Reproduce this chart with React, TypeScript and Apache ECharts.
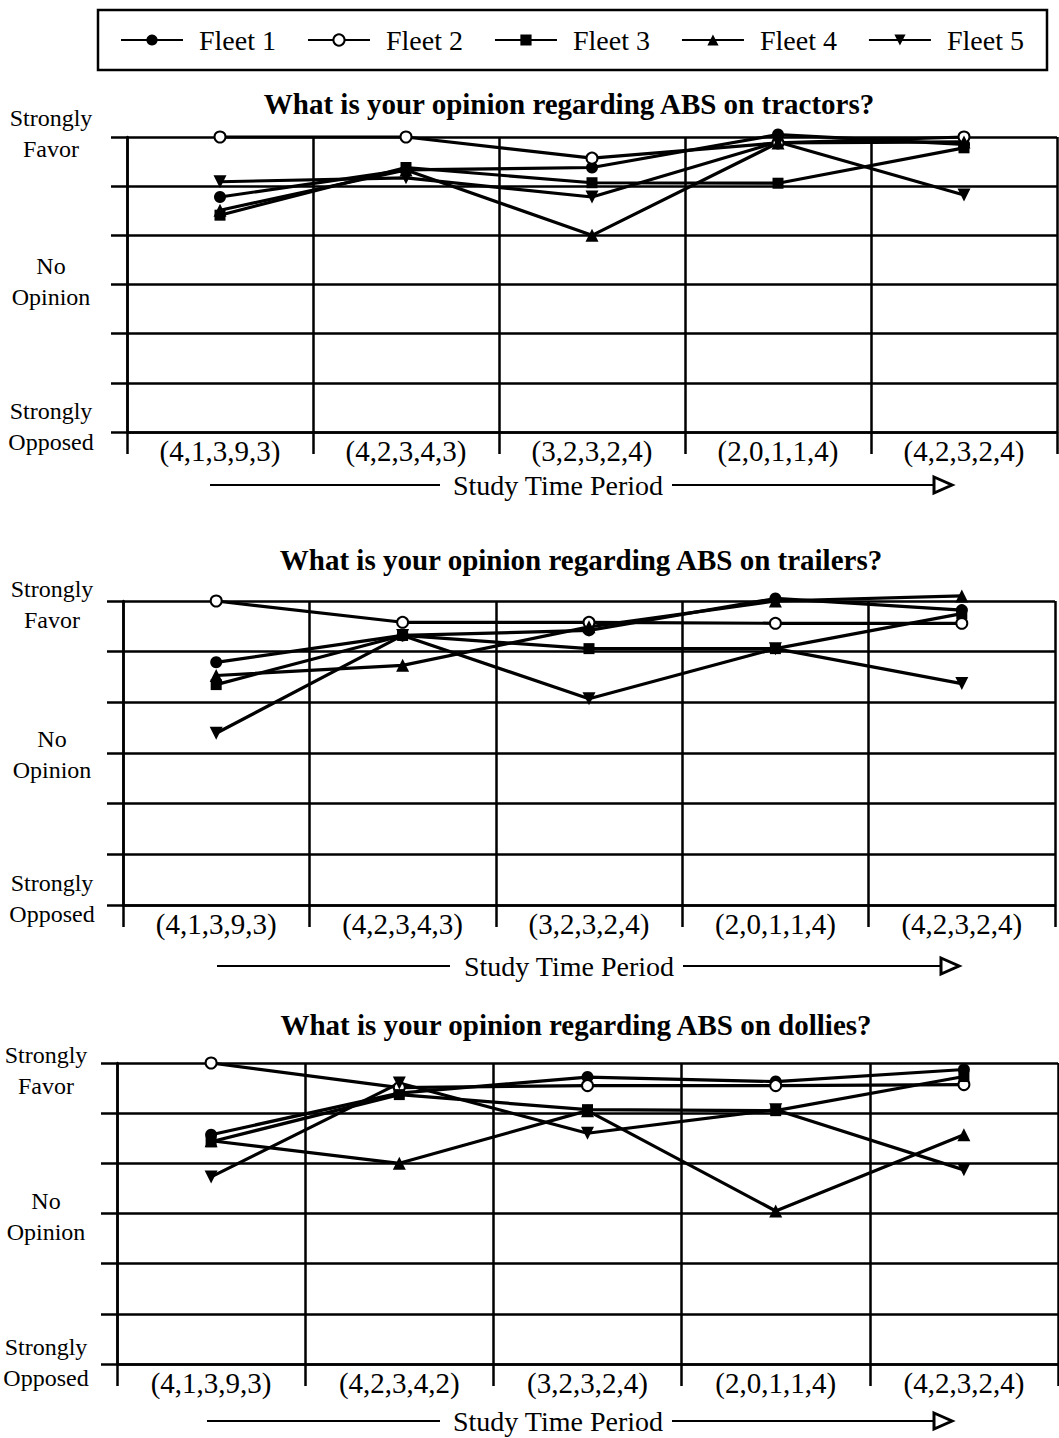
import React, { useEffect, useRef } from "react";
import * as echarts from "echarts";

const categoriesTractors = ["(4,1,3,9,3)", "(4,2,3,4,3)", "(3,2,3,2,4)", "(2,0,1,1,4)", "(4,2,3,2,4)"];
const categoriesTrailers = ["(4,1,3,9,3)", "(4,2,3,4,3)", "(3,2,3,2,4)", "(2,0,1,1,4)", "(4,2,3,2,4)"];
const categoriesDollies = ["(4,1,3,9,3)", "(4,2,3,4,2)", "(3,2,3,2,4)", "(2,0,1,1,4)", "(4,2,3,2,4)"];

const fleetNames = ["Fleet 1", "Fleet 2", "Fleet 3", "Fleet 4", "Fleet 5"];

// Opinion scale: 1 = Strongly Opposed, 4 = No Opinion, 7 = Strongly Favor
const tractorsFleet1 = [5.78, 6.33, 6.38, 7.05, 6.85];
const tractorsFleet2 = [7.0, 7.0, 6.57, 6.88, 7.0];
const tractorsFleet3 = [5.41, 6.38, 6.07, 6.06, 6.78];
const tractorsFleet4 = [5.51, 6.33, 5.0, 6.88, 6.9];
const tractorsFleet5 = [6.09, 6.17, 5.78, 6.9, 5.82];

const trailersFleet1 = [5.79, 6.32, 6.42, 7.05, 6.82];
const trailersFleet2 = [7.0, 6.58, 6.58, 6.56, 6.56];
const trailersFleet3 = [5.35, 6.32, 6.06, 6.06, 6.75];
const trailersFleet4 = [5.53, 5.73, 6.49, 7.0, 7.1];
const trailersFleet5 = [4.39, 6.32, 5.07, 6.06, 5.37];

const dolliesFleet1 = [5.57, 6.4, 6.72, 6.63, 6.87];
const dolliesFleet2 = [7.0, 6.51, 6.55, 6.55, 6.57];
const dolliesFleet3 = [5.43, 6.37, 6.07, 6.05, 6.73];
const dolliesFleet4 = [5.45, 5.0, 6.05, 4.05, 5.57];
const dolliesFleet5 = [4.73, 6.6, 5.6, 6.07, 4.87];

const yTickValues = [1, 4, 7];
const yTickLabels = [
  ["Strongly", "Opposed"],
  ["No", "Opinion"],
  ["Strongly", "Favor"],
];

const chartTitles = [
  "What is your opinion regarding ABS on tractors?",
  "What is your opinion regarding ABS on trailers?",
  "What is your opinion regarding ABS on dollies?",
];
const xAxisTitle = "Study Time Period";

const FONT = "'Liberation Serif', 'Times New Roman', serif";

export default function App() {
  const ref = useRef<HTMLDivElement>(null);

  useEffect(() => {
    if (!ref.current) return;
    const chart = echarts.init(ref.current, undefined, { renderer: "svg" });

    const panels = [
      {
        cats: categoriesTractors,
        data: [tractorsFleet1, tractorsFleet2, tractorsFleet3, tractorsFleet4, tractorsFleet5],
        grid: { left: 127, top: 137, width: 930, height: 295 },
        yMargin: 76,
        // vertical label shifts (px, + = down) for [Opposed, No Opinion, Favor]
        yShift: [-6, -3, -4],
        title: { x: 569, y: 104 },
        study: { x: 558, y: 485, l1: 210, l2: 440, r1: 672, r2: 934 },
      },
      {
        cats: categoriesTrailers,
        data: [trailersFleet1, trailersFleet2, trailersFleet3, trailersFleet4, trailersFleet5],
        grid: { left: 123, top: 601, width: 932, height: 304 },
        yMargin: 71,
        yShift: [-7, 1, 3],
        title: { x: 581, y: 560 },
        study: { x: 569, y: 966, l1: 217, l2: 450, r1: 683, r2: 941 },
      },
      {
        cats: categoriesDollies,
        data: [dolliesFleet1, dolliesFleet2, dolliesFleet3, dolliesFleet4, dolliesFleet5],
        grid: { left: 117, top: 1063, width: 941, height: 301 },
        yMargin: 71,
        yShift: [-2, 3, 7],
        title: { x: 576, y: 1025 },
        study: { x: 558, y: 1421, l1: 207, l2: 440, r1: 672, r2: 934 },
      },
    ];

    const symbols = ["circle", "emptyCircle", "rect", "triangle", "triangle"];
    const symbolSizes = [12, 11, 11, 13, 13];
    const symbolRotates = [0, 0, 0, 0, 180];

    const lineColor = "#000";

    const rich: Record<string, any> = {
      t: { fontFamily: FONT, fontSize: 24, lineHeight: 31, color: "#000", align: "center" },
    };
    for (let d = 1; d <= 20; d++) {
      rich["sp" + d] = { fontSize: 1, lineHeight: d, height: d };
    }

    const grids = panels.map((p) => ({ ...p.grid }));
    const xAxes = panels.map((p, i) => ({
      type: "category",
      gridIndex: i,
      data: p.cats,
      boundaryGap: true,
      axisLine: { show: true, lineStyle: { color: lineColor, width: 2.5 } },
      axisTick: { show: true, length: 22, lineStyle: { color: lineColor, width: 2.5 } },
      splitLine: { show: true, lineStyle: { color: lineColor, width: 2.5 } },
      axisLabel: { color: "#000", fontFamily: FONT, fontSize: 29, margin: 5, lineHeight: 28 },
    }));
    const yAxes = panels.map((p, i) => ({
      type: "value",
      gridIndex: i,
      min: 1,
      max: 7,
      interval: 1,
      axisLine: { show: true, lineStyle: { color: lineColor, width: 2.5 } },
      axisTick: { show: true, length: 16, lineStyle: { color: lineColor, width: 2.5 } },
      splitLine: { show: true, lineStyle: { color: lineColor, width: 2.5 } },
      axisLabel: {
        color: "#000",
        fontFamily: FONT,
        fontSize: 24,
        lineHeight: 31,
        align: "center",
        margin: p.yMargin,
        rich,
        formatter: (v: number) => {
          const idx = yTickValues.indexOf(v);
          if (idx < 0) return "";
          const lines = yTickLabels[idx].map((s) => "{t|" + s + "}");
          const shift = p.yShift[idx];
          const sp = Math.min(20, Math.abs(shift) * 2);
          if (shift > 0) return "{sp" + sp + "| }\n" + lines.join("\n");
          if (shift < 0) return lines.join("\n") + "\n{sp" + sp + "| }";
          return lines.join("\n");
        },
      },
    }));

    const series: any[] = [];
    panels.forEach((p, gi) => {
      p.data.forEach((vals, fi) => {
        series.push({
          type: "line",
          name: fleetNames[fi],
          xAxisIndex: gi,
          yAxisIndex: gi,
          data: vals,
          symbol: symbols[fi],
          symbolSize: symbolSizes[fi],
          symbolRotate: symbolRotates[fi],
          showAllSymbol: true,
          clip: false,
          lineStyle: { color: lineColor, width: 3.2 },
          itemStyle: { color: lineColor, borderColor: lineColor, borderWidth: fi === 1 ? 1.8 : 0 },
          emphasis: { disabled: true },
          z: 3,
        });
      });
    });

    const graphics: any[] = [
      {
        type: "rect",
        shape: { x: 98, y: 10, width: 949, height: 60 },
        style: { fill: "none", stroke: "#000", lineWidth: 2.5 },
        silent: true,
      },
    ];
    panels.forEach((p, i) => {
      graphics.push({
        type: "text",
        x: p.title.x,
        y: p.title.y,
        style: {
          text: chartTitles[i],
          fontFamily: FONT,
          fontSize: 29,
          fontWeight: "bold",
          fill: "#000",
          align: "center",
          verticalAlign: "middle",
        },
      });
      const s = p.study;
      graphics.push({
        type: "text",
        x: s.x,
        y: s.y,
        style: {
          text: xAxisTitle,
          fontFamily: FONT,
          fontSize: 28,
          fill: "#000",
          align: "center",
          verticalAlign: "middle",
        },
      });
      graphics.push({
        type: "line",
        shape: { x1: s.l1, y1: s.y, x2: s.l2, y2: s.y },
        style: { stroke: "#000", lineWidth: 2 },
      });
      graphics.push({
        type: "line",
        shape: { x1: s.r1, y1: s.y, x2: s.r2, y2: s.y },
        style: { stroke: "#000", lineWidth: 2 },
      });
      graphics.push({
        type: "polygon",
        shape: { points: [[s.r2, s.y - 8], [s.r2 + 18, s.y], [s.r2, s.y + 8]] },
        style: { fill: "#fff", stroke: "#000", lineWidth: 3 },
      });
    });

    chart.setOption({
      animation: false,
      backgroundColor: "#fff",
      legend: {
        data: fleetNames,
        left: 120,
        top: 26,
        padding: 0,
        itemWidth: 62,
        itemHeight: 14,
        itemGap: 31,
        selectedMode: false,
        textStyle: { fontFamily: FONT, fontSize: 28, color: "#000", padding: [0, 0, 0, 11], lineHeight: 28 },
      },
      grid: grids,
      xAxis: xAxes,
      yAxis: yAxes,
      series,
      graphic: graphics,
    });

    return () => {
      chart.dispose();
    };
  }, []);

  return (
    <div
      ref={ref}
      style={{ position: "absolute", left: 0, top: 0, width: 1059, height: 1438, background: "#fff" }}
    />
  );
}
